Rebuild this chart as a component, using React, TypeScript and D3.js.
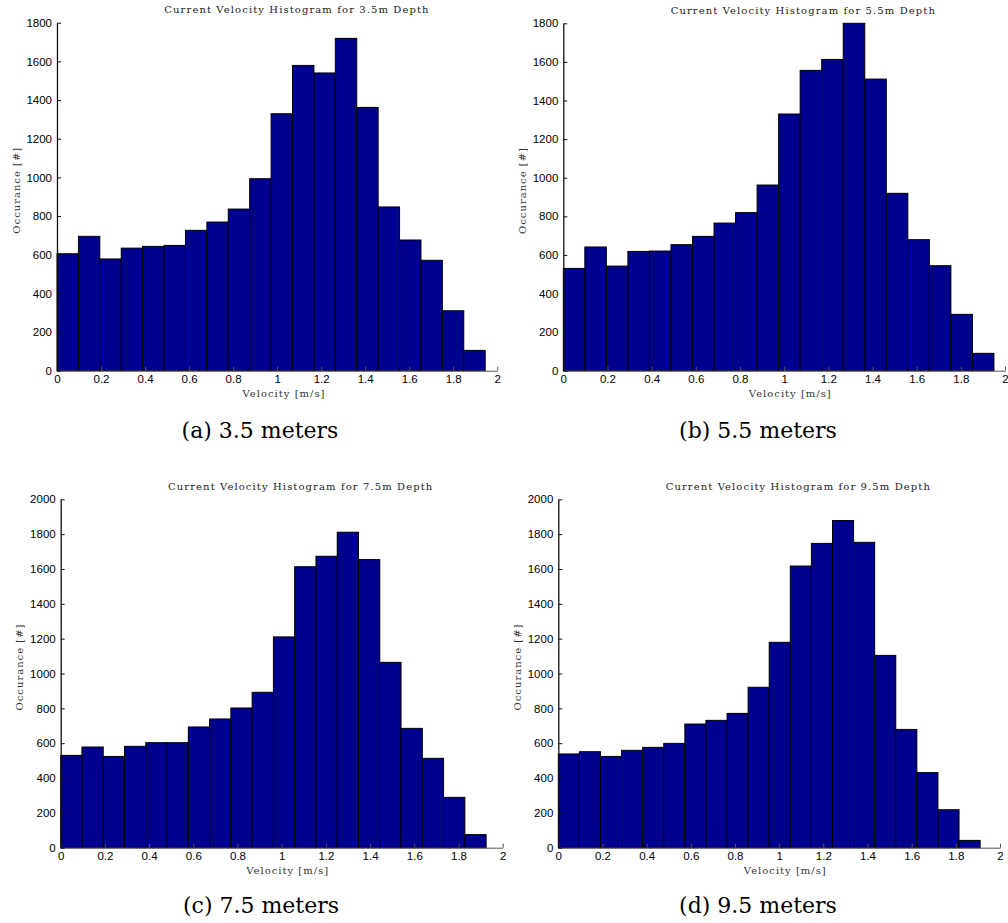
import React, { useEffect, useRef } from "react";
import * as d3 from "d3";

// bin counts (20 bins each)
const counts35 = [605, 695, 578, 634, 643, 648, 726, 769, 836, 993, 1329, 1579, 1540, 1719, 1362, 847, 676, 571, 310, 105];
const counts55 = [530, 641, 542, 618, 620, 653, 696, 765, 819, 962, 1330, 1556, 1613, 1800, 1511, 919, 679, 544, 292, 90];
const counts75 = [530, 578, 524, 582, 603, 603, 693, 739, 802, 892, 1210, 1613, 1673, 1811, 1654, 1064, 685, 513, 289, 75];
const counts95 = [538, 551, 524, 559, 576, 599, 710, 731, 771, 921, 1179, 1617, 1747, 1878, 1753, 1104, 679, 431, 218, 42];

// right edge of the last bin (max velocity) per depth
const maxVelocity = [1.945, 1.95, 1.925, 1.91];
const depths = ["3.5", "5.5", "7.5", "9.5"];
const captions = ["(a) 3.5 meters", "(b) 5.5 meters", "(c) 7.5 meters", "(d) 9.5 meters"];
const yMaxes = [1800, 1800, 2000, 2000];
const xTicks = [0, 0.2, 0.4, 0.6, 0.8, 1, 1.2, 1.4, 1.6, 1.8, 2];
const yTicks1800 = [0, 200, 400, 600, 800, 1000, 1200, 1400, 1600, 1800];
const yTicks2000 = [0, 200, 400, 600, 800, 1000, 1200, 1400, 1600, 1800, 2000];

const allCounts = [counts35, counts55, counts75, counts95];
const allYTicks = [yTicks1800, yTicks1800, yTicks2000, yTicks2000];

const frames = [
  { left: 57, right: 497.3, top: 22.7, bottom: 370.7, capX: 260, capY: 438 },
  { left: 563.3, right: 1005, top: 23.3, bottom: 370.7, capX: 758, capY: 438 },
  { left: 60.7, right: 502.7, top: 499.3, bottom: 847.7, capX: 261, capY: 913 },
  { left: 558.3, right: 1000, top: 499.3, bottom: 847.7, capX: 758, capY: 913 },
];

const serif = "'DejaVu Serif', serif";
const sans = "'Liberation Sans', Arial, sans-serif";

export default function App() {
  const ref = useRef<SVGSVGElement>(null);

  useEffect(() => {
    const svg = d3.select(ref.current);
    svg.selectAll("*").remove();

    frames.forEach((f, i) => {
      const counts = allCounts[i];
      const binW = maxVelocity[i] / counts.length;

      const x = d3.scaleLinear().domain([0, 2]).range([f.left, f.right]);
      const y = d3.scaleLinear().domain([0, yMaxes[i]]).range([f.bottom, f.top]);

      const g = svg.append("g");

      g.append("g")
        .selectAll("rect")
        .data(counts)
        .join("rect")
        .attr("x", (d, j) => x(j * binW))
        .attr("width", (d, j) => x((j + 1) * binW) - x(j * binW))
        .attr("y", (d) => y(d))
        .attr("height", (d) => y(0) - y(d))
        .attr("fill", "#00008f")
        .attr("stroke", "#000")
        .attr("stroke-width", 1);

      const xAxis = g
        .append("g")
        .attr("transform", `translate(0,${f.bottom})`)
        .call(
          d3
            .axisBottom(x)
            .tickValues(xTicks)
            .tickFormat((d) => String(d))
            .tickSizeInner(-4)
            .tickSizeOuter(0)
            .tickPadding(4)
        );
      xAxis.select(".domain").attr("stroke", "#555");
      xAxis.selectAll(".tick line").attr("stroke", "#555");
      xAxis.selectAll("text").attr("font-family", sans).attr("font-size", 11.5).attr("fill", "#000");

      const yAxis = g
        .append("g")
        .attr("transform", `translate(${f.left},0)`)
        .call(
          d3
            .axisLeft(y)
            .tickValues(allYTicks[i])
            .tickFormat((d) => String(d))
            .tickSizeInner(-4)
            .tickSizeOuter(0)
            .tickPadding(5)
        );
      yAxis.select(".domain").attr("stroke", "#111").attr("stroke-width", 1.3);
      yAxis.selectAll(".tick line").attr("stroke", "#111");
      yAxis.selectAll("text").attr("font-family", sans).attr("font-size", 11.5).attr("fill", "#000");

      g.append("text")
        .attr("x", f.left + 240)
        .attr("y", f.top - 9.5)
        .attr("text-anchor", "middle")
        .attr("font-family", serif)
        .attr("font-size", 10)
        .attr("letter-spacing", 1.1)
        .attr("fill", "#222")
        .text(`Current Velocity Histogram for ${depths[i]}m Depth`);

      g.append("text")
        .attr("x", f.left + 227)
        .attr("y", f.bottom + 26.5)
        .attr("text-anchor", "middle")
        .attr("font-family", serif)
        .attr("font-size", 10)
        .attr("letter-spacing", 1)
        .attr("fill", "#333")
        .text("Velocity [m/s]");

      const midY = (f.top + f.bottom) / 2 - 6.5;
      g.append("text")
        .attr("transform", `translate(${f.left - 41},${midY}) rotate(-90)`)
        .attr("text-anchor", "middle")
        .attr("dominant-baseline", "central")
        .attr("font-family", serif)
        .attr("font-size", 10)
        .attr("letter-spacing", 1)
        .attr("fill", "#333")
        .text("Occurance [#]");

      g.append("text")
        .attr("x", f.capX)
        .attr("y", f.capY)
        .attr("text-anchor", "middle")
        .attr("font-family", serif)
        .attr("font-size", 22)
        .attr("fill", "#000")
        .text(captions[i]);
    });
  }, []);

  return (
    <svg
      ref={ref}
      width={1008}
      height={923}
      style={{ position: "absolute", left: 0, top: 0, background: "#fff" }}
    />
  );
}
